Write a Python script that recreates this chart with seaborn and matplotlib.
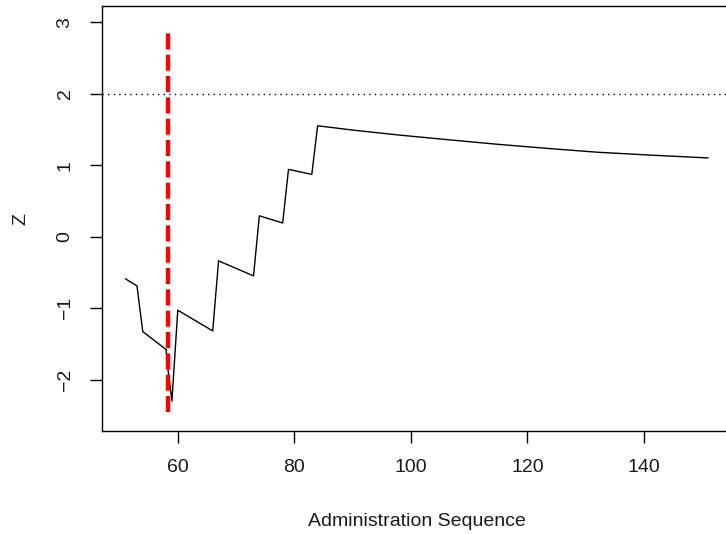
import matplotlib
matplotlib.use("Agg")
import matplotlib.pyplot as plt
import seaborn as sns
import pandas as pd

# Cumulative z statistic by administration sequence
admin_seq = [51, 53, 54, 58, 58.2, 59, 60, 66, 67, 73, 74, 78, 79, 83, 84,
             90, 98, 107, 115, 124, 132, 141, 151]
z_values = [-0.59, -0.69, -1.33, -1.58, -1.78, -2.30, -1.03, -1.32, -0.34,
            -0.55, 0.29, 0.19, 0.94, 0.87, 1.55,
            1.49, 1.42, 1.35, 1.29, 1.23, 1.18, 1.14, 1.10]

threshold = 2.0
change_point = 58.4
change_span = [-2.46, 2.86]

x_ticks = [60, 80, 100, 120, 140]
y_ticks = [-2, -1, 0, 1, 2, 3]

sns.set_style("ticks")
plt.rcParams["font.family"] = ["Liberation Sans", "DejaVu Sans"]

fig = plt.figure(figsize=(7.26, 5.34), dpi=100)
ax = fig.add_axes([102 / 726, (534 - 431) / 534, (731.4 - 102) / 726, (431 - 6.4) / 534])

df = pd.DataFrame({"seq": admin_seq, "z": z_values})
sns.lineplot(data=df, x="seq", y="z", ax=ax, color="black", lw=1.0,
             estimator=None, sort=False)

ax.axhline(threshold, color="black", lw=1.0, linestyle=(0, (1, 3)))
ax.plot([change_point, change_point], change_span, color="red", lw=3.2,
        linestyle=(0, (3.6, 1.2)), solid_capstyle="butt", dash_capstyle="butt")

ax.set_xlim(47, 155)
ax.set_ylim(-2.72, 3.22)
ax.set_xticks(x_ticks)
ax.set_yticks(y_ticks)
ax.set_yticklabels([f"\u2212{abs(v)}" if v < 0 else str(v) for v in y_ticks],
                   rotation=90, va="center")

for s in ax.spines.values():
    s.set_linewidth(1.0)
    s.set_color("black")
ax.tick_params(axis="both", length=8.4, width=1.0, color="black",
               labelsize=14, labelcolor="#1a1a1a")
ax.tick_params(axis="x", pad=12)
ax.tick_params(axis="y", pad=12)

ax.set_xlabel("Administration Sequence", fontsize=14, color="#1a1a1a")
ax.set_ylabel("Z", fontsize=14, color="#1a1a1a")
ax.xaxis.set_label_coords(0.5, -0.214)
ax.yaxis.set_label_coords(-0.129, 0.5)
ax.xaxis.label.set_va("center")
ax.yaxis.label.set_va("center")

fig.savefig("out.png", dpi=100)
